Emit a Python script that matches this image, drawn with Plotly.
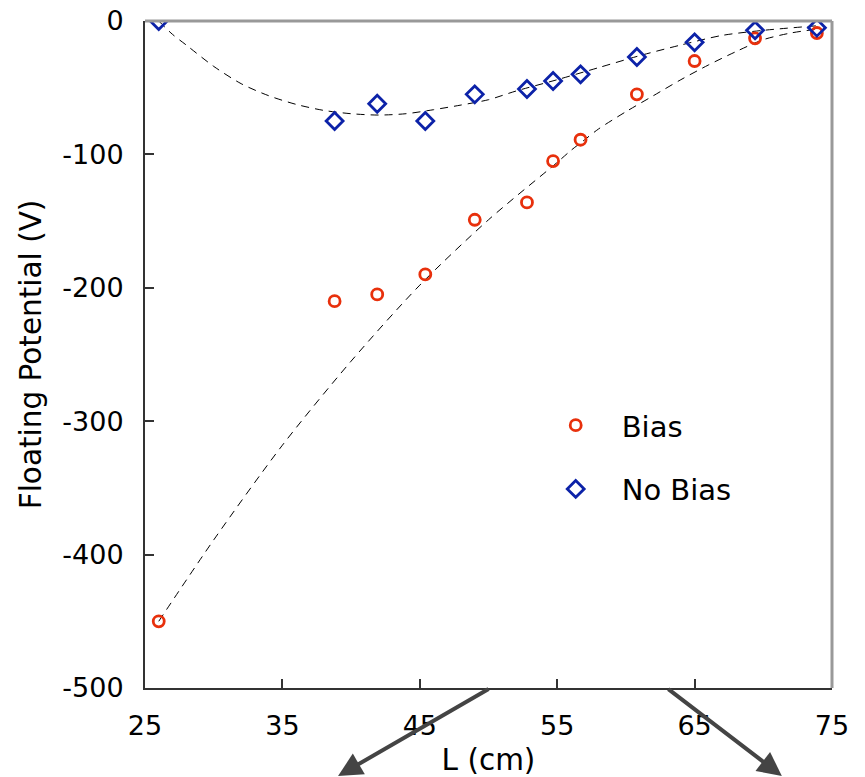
import plotly.graph_objects as go

# Data
L_cm = [26.0, 38.8, 41.9, 45.4, 49.0, 52.8, 54.7, 56.7, 60.8, 65.0, 69.4, 73.9]
bias = [-450, -210, -205, -190, -149, -136, -105, -89, -55, -30, -13, -9]
no_bias = [0, -75, -62, -75, -55, -51, -45, -40, -27, -16, -7, -5]

fit_bias_x = [26, 30, 35, 40, 45, 50, 55, 56, 57, 58, 60, 62, 64, 66, 68, 70, 72, 74]
fit_bias_y = [-450, -389, -318, -255, -198, -149, -106, -97, -89, -81, -68, -56, -44, -33, -23, -14, -9, -6]
fit_nobias_x = [26, 27, 28, 30, 32, 34, 36, 38, 40, 42, 44, 46, 48, 50, 52, 55, 58, 61, 64, 67, 70, 74]
fit_nobias_y = [0, -10, -18, -34, -47, -56, -62.5, -67, -69.5, -70.5, -69.5, -66.5, -63, -59, -52.5, -44, -35, -26, -18, -10.8, -7, -3.5]

x_ticks = [25, 35, 45, 55, 65, 75]
y_ticks = [0, -100, -200, -300, -400, -500]

FONT = "DejaVu Sans"

fig = go.Figure()
fig.add_trace(go.Scatter(x=fit_bias_x, y=fit_bias_y, mode="lines", showlegend=False,
                         line=dict(color="black", width=1, dash="8px,6px", shape="spline", smoothing=0.8),
                         hoverinfo="skip"))
fig.add_trace(go.Scatter(x=fit_nobias_x, y=fit_nobias_y, mode="lines", showlegend=False,
                         line=dict(color="black", width=1, dash="8px,6px", shape="spline", smoothing=0.8),
                         hoverinfo="skip"))
fig.add_trace(go.Scatter(x=L_cm, y=bias, mode="markers", name="Bias", legendgroup="a",
                         marker=dict(symbol="circle-open", size=11, color="#e8300c",
                                     line=dict(width=2.8, color="#e8300c"))))
fig.add_trace(go.Scatter(x=L_cm, y=no_bias, mode="markers", name="No Bias", legendgroup="b",
                         marker=dict(symbol="diamond-open", size=13, color="#0c22a8",
                                     line=dict(width=2.8, color="#0c22a8"))))

axis_common = dict(showgrid=False, zeroline=False, showline=True, linecolor="#333",
                   linewidth=2, ticks="inside", ticklen=9, tickwidth=1.5, tickcolor="#333",
                   automargin=False,
                   tickfont=dict(family=FONT, size=27, color="black"))

fig.update_xaxes(range=[25, 75], tickvals=x_ticks, ticktext=[str(v) for v in x_ticks],
                 title=dict(text="L (cm)", font=dict(family=FONT, size=29.5, color="black"),
                            standoff=11),
                 ticklabelstandoff=13, **axis_common)
fig.update_yaxes(range=[-500, 0], tickvals=y_ticks, ticktext=[str(v) for v in y_ticks],
                 title=dict(text="Floating Potential (V)", font=dict(family=FONT, size=29.5, color="black"),
                            standoff=12),
                 ticklabelstandoff=14, **axis_common)

fig.update_layout(
    width=865, height=777,
    margin=dict(l=145, r=33, t=21, b=89),
    paper_bgcolor="white", plot_bgcolor="white",
    legend=dict(x=0.56, y=0.432, xanchor="left", yanchor="top", bgcolor="rgba(0,0,0,0)",
                font=dict(family=FONT, size=29, color="black"), tracegroupgap=23,
                itemwidth=82),
    shapes=[
        dict(type="line", xref="paper", yref="paper", x0=0, x1=1, y0=1, y1=1,
             line=dict(color="#999", width=3), layer="above"),
        dict(type="line", xref="paper", yref="paper", x0=1, x1=1, y0=0, y1=1,
             line=dict(color="#999", width=3), layer="above"),
    ],
    annotations=[
        dict(x=0.281, y=-0.147, xref="paper", yref="paper", ax=152, ay=-98,
             showarrow=True, arrowhead=2, arrowsize=1.2, arrowwidth=4, arrowcolor="#444", text=""),
        dict(x=0.927, y=-0.141, xref="paper", yref="paper", ax=-115, ay=-94,
             showarrow=True, arrowhead=2, arrowsize=1.2, arrowwidth=4, arrowcolor="#444", text=""),
    ],
)

fig.write_html("out.html")
